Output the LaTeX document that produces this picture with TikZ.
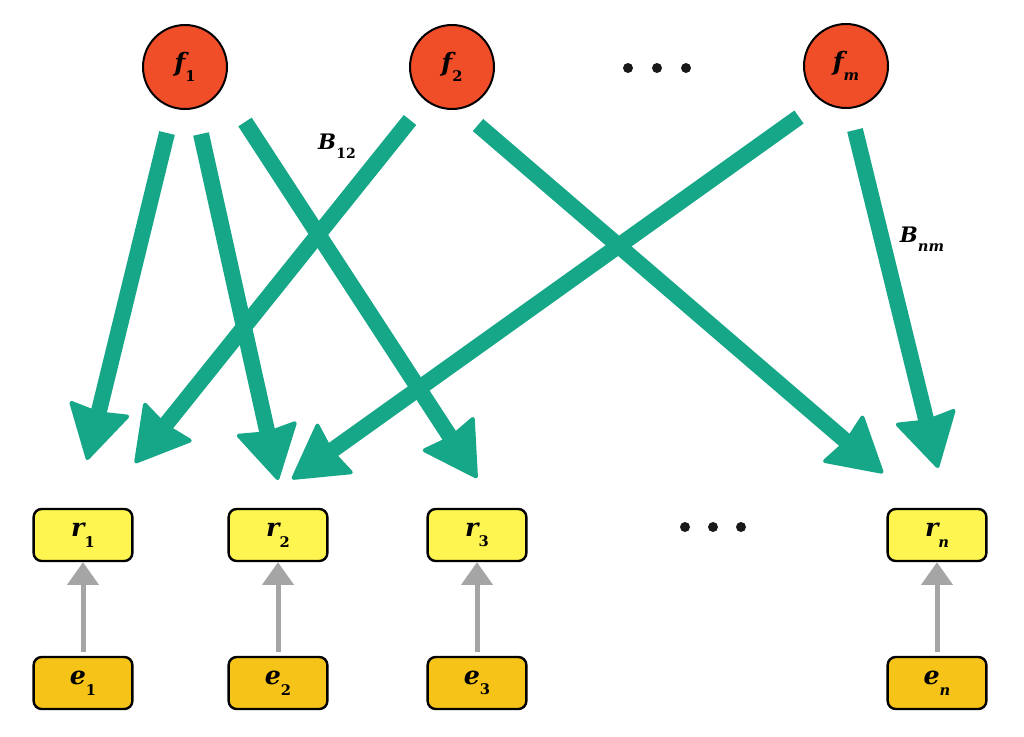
\documentclass[tikz,border=0pt]{standalone}
\usepackage{fontspec}
\usetikzlibrary{arrows.meta}
\newfontfamily\lbfont{DejaVu Serif}
\definecolor{arrgreen}{RGB}{22,166,136}
\definecolor{nodered}{RGB}{240,78,40}
\definecolor{ryellow}{RGB}{255,245,80}
\definecolor{egold}{RGB}{246,196,24}
\definecolor{arrgray}{RGB}{165,165,165}
\newcommand\lab[2]{{\lbfont\bfseries\itshape\fontsize{19}{19}\selectfont #1}\raisebox{-8pt}{\lbfont\bfseries\fontsize{11}{11}\selectfont #2}}
\newcommand\labB[2]{{\lbfont\bfseries\itshape\fontsize{16}{16}\selectfont #1}\raisebox{-7pt}{\lbfont\bfseries\itshape\fontsize{11}{11}\selectfont #2}}
\newcommand\labBn[2]{{\lbfont\bfseries\itshape\fontsize{16}{16}\selectfont #1}\raisebox{-7pt}{\lbfont\bfseries\fontsize{10.5}{10.5}\selectfont #2}}
\tikzset{
  fcirc/.style={circle, draw=black, line width=1.5pt, fill=nodered, minimum size=63pt, inner sep=0pt},
  rbox/.style={rectangle, rounded corners=6pt, draw=black, line width=1.8pt, fill=ryellow, minimum width=74pt, minimum height=39pt, inner sep=0pt},
  ebox/.style={rbox, fill=egold},
  garrow/.style={draw=arrgreen, line width=12pt, -{Stealth[length=42pt,width=48pt,inset=3pt,round,line width=3pt]}},
  grarrow/.style={draw=arrgray, line width=3.75pt, -{Triangle[length=17pt,width=23pt]}, shorten <=3pt},
  dotmark/.style={circle, fill=black!90, minimum size=7.5pt, inner sep=0pt},
}
\begin{document}
\begin{tikzpicture}[x=0.75pt,y=-0.75pt]
\useasboundingbox (0,0) rectangle (1024,736);
% top nodes
\node[fcirc] (f1) at (185,67) {\lab{f}{1}};
\node[fcirc] (f2) at (452,67) {\lab{f}{2}};
\node[fcirc] (fm) at (846,66) {\lab{f}{\itshape m}};
\node[dotmark] (td1) at (628,68) {};
\node[dotmark] (td2) at (657,68) {};
\node[dotmark] (td3) at (686,68) {};
% r boxes
\node[rbox] (r1) at (83,535) {\lab{r}{1}};
\node[rbox] (r2) at (278,535) {\lab{r}{2}};
\node[rbox] (r3) at (477,535) {\lab{r}{3}};
\node[rbox] (rn) at (937,535) {\lab{r}{\itshape n}};
\node[dotmark] (bd1) at (685,527) {};
\node[dotmark] (bd2) at (713,527) {};
\node[dotmark] (bd3) at (741,527) {};
% e boxes
\node[ebox] (e1) at (83,683) {\lab{e}{1}};
\node[ebox] (e2) at (278,683) {\lab{e}{2}};
\node[ebox] (e3) at (477,683) {\lab{e}{3}};
\node[ebox] (en) at (937,683) {\lab{e}{\itshape n}};
% gray arrows
\draw[grarrow] (e1.north) -- (r1.south);
\draw[grarrow] (e2.north) -- (r2.south);
\draw[grarrow] (e3.north) -- (r3.south);
\draw[grarrow] (en.north) -- (rn.south);
% green arrow endpoints
\coordinate (s11) at (167,133);
\coordinate (t11) at (87,460);
\coordinate (s12) at (201,134);
\coordinate (t12) at (278,480);
\coordinate (s13) at (245,122);
\coordinate (t13) at (477,478);
\coordinate (s21) at (410,120);
\coordinate (t21) at (135,463);
\coordinate (s2n) at (478,125);
\coordinate (t2n) at (883,473);
\coordinate (sm2) at (799,117);
\coordinate (tm2) at (292,479);
\coordinate (smn) at (855,130);
\coordinate (tmn) at (938,468);
\draw[garrow] (s11) -- (t11);
\draw[garrow] (s12) -- (t12);
\draw[garrow] (s13) -- (t13);
\draw[garrow] (s21) -- (t21);
\draw[garrow] (s2n) -- (t2n);
\draw[garrow] (sm2) -- (tm2);
\draw[garrow] (smn) -- (tmn);
% labels
\node (b12) at (337,146) {\labBn{B}{12}};
\node (bnm) at (922,239) {\labB{B}{nm}};
\end{tikzpicture}
\end{document}
